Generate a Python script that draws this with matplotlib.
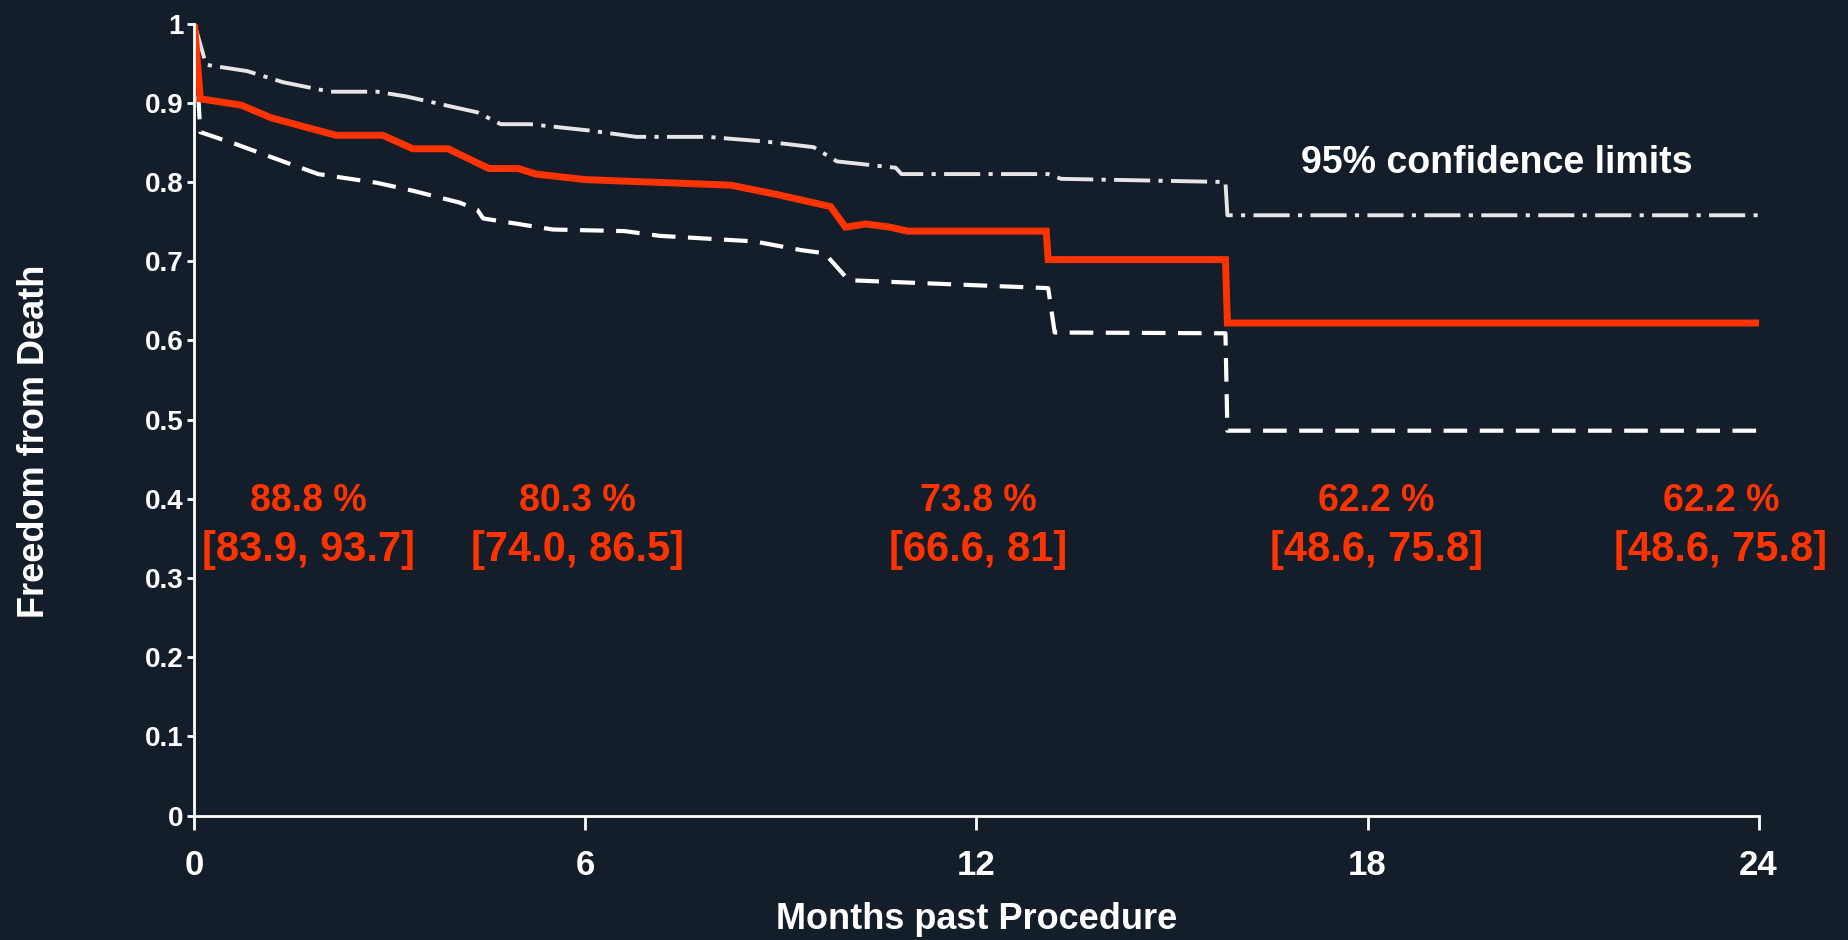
import matplotlib
matplotlib.use("Agg")
import matplotlib.pyplot as plt

plt.rcParams["font.family"] = ["Liberation Sans", "DejaVu Sans"]
plt.rcParams["font.weight"] = "bold"
plt.rcParams["axes.labelweight"] = "bold"
plt.rcParams["lines.scale_dashes"] = False

BG = "#141e2a"
RED = "#ff3300"
WHITE = "#ffffff"

# Kaplan-Meier estimate (months, survival)
km_months = [0, 0.09, 0.72, 1.18, 2.17, 2.89, 3.35, 3.89, 4.52, 4.97, 5.24,
             6.0, 6.96, 8.23, 8.95, 9.76, 9.99, 10.3, 10.67, 10.94, 12.0,
             13.07, 13.1, 15.82, 15.85, 18.0, 24.0]
km_surv = [1.0, 0.905, 0.897, 0.881, 0.859, 0.859, 0.842, 0.842, 0.817, 0.817,
           0.81, 0.803, 0.800, 0.796, 0.784, 0.769, 0.743, 0.747, 0.743, 0.738,
           0.738, 0.738, 0.702, 0.702, 0.622, 0.622, 0.622]

# upper 95% confidence limit
upper_months = [0, 0.18, 0.81, 1.36, 2.08, 2.8, 3.25, 3.9, 4.34, 4.7, 5.15,
                6.06, 6.78, 7.87, 8.77, 9.5, 9.86, 10.76, 10.85, 13.1, 13.3,
                15.82, 15.85, 24.0]
upper_surv = [1.0, 0.948, 0.94, 0.926, 0.914, 0.914, 0.908, 0.896, 0.888,
              0.873, 0.873, 0.865, 0.857, 0.857, 0.851, 0.844, 0.826, 0.818,
              0.81, 0.81, 0.804, 0.80, 0.758, 0.758]

# lower 95% confidence limit
lower_months = [0, 0.09, 0.63, 1.36, 1.9, 2.8, 3.35, 4.07, 4.34, 4.43, 4.97,
                5.5, 6.6, 7.14, 8.59, 9.31, 9.67, 10.04, 13.1, 13.2, 15.82,
                15.85, 24.0]
lower_surv = [1.0, 0.863, 0.848, 0.826, 0.81, 0.799, 0.789, 0.774, 0.765,
              0.754, 0.747, 0.74, 0.738, 0.732, 0.725, 0.714, 0.71, 0.676,
              0.666, 0.61, 0.609, 0.486, 0.486]

label_pct = ["88.8 %", "80.3 %", "73.8 %", "62.2 %", "62.2 %"]
label_ci = ["[83.9, 93.7]", "[74.0, 86.5]", "[66.6, 81]", "[48.6, 75.8]",
            "[48.6, 75.8]"]
label_x = [1.75, 5.88, 12.03, 18.14, 23.42]

x_ticks = [0, 6, 12, 18, 24]
y_ticks = [0, 0.1, 0.2, 0.3, 0.4, 0.5, 0.6, 0.7, 0.8, 0.9, 1.0]
y_ticklabels = ["0", "0.1", "0.2", "0.3", "0.4", "0.5", "0.6", "0.7", "0.8",
                "0.9", "1"]

fig = plt.figure(figsize=(18.48, 9.4), dpi=100, facecolor=BG)
ax = fig.add_axes([0.1052, 0.1323, 0.8464, 0.8426], facecolor=BG)

ax.plot(upper_months, upper_surv, color="#e6e6e6", lw=2.8,
        dashes=(26, 6, 3, 6))
ax.plot(lower_months, lower_surv, color=WHITE, lw=3.0, dashes=(17, 9))
ax.plot(km_months, km_surv, color=RED, lw=5, solid_joinstyle="miter")

for x, pct, ci in zip(label_x, label_pct, label_ci):
    ax.text(x, 0.397, pct, color=RED, fontsize=27, ha="center", va="center")
    ax.text(x, 0.335, ci, color=RED, fontsize=30, ha="center", va="center")

ax.text(19.98, 0.824, "95% confidence limits", color=WHITE, fontsize=27,
        ha="center", va="center")

ax.set_xlim(0, 24)
ax.set_ylim(0, 1)
ax.set_xticks(x_ticks)
ax.set_yticks(y_ticks)
ax.set_yticklabels(y_ticklabels)

for side in ("top", "right"):
    ax.spines[side].set_visible(False)
for side in ("left", "bottom"):
    ax.spines[side].set_color(WHITE)
    ax.spines[side].set_linewidth(2)

ax.tick_params(axis="x", colors=WHITE, labelsize=25, length=10, width=2,
               pad=14)
ax.tick_params(axis="y", colors=WHITE, labelsize=20, length=5, width=2,
               pad=3)

ax.set_xlabel("Months past Procedure", color=WHITE, fontsize=26,
              va="center")
ax.xaxis.set_label_coords(0.5, -0.1306)
ax.set_ylabel("Freedom from Death", color=WHITE, fontsize=26, va="center")
ax.yaxis.set_label_coords(-0.102, 0.472)

fig.savefig("out.png", dpi=100, facecolor=BG)
